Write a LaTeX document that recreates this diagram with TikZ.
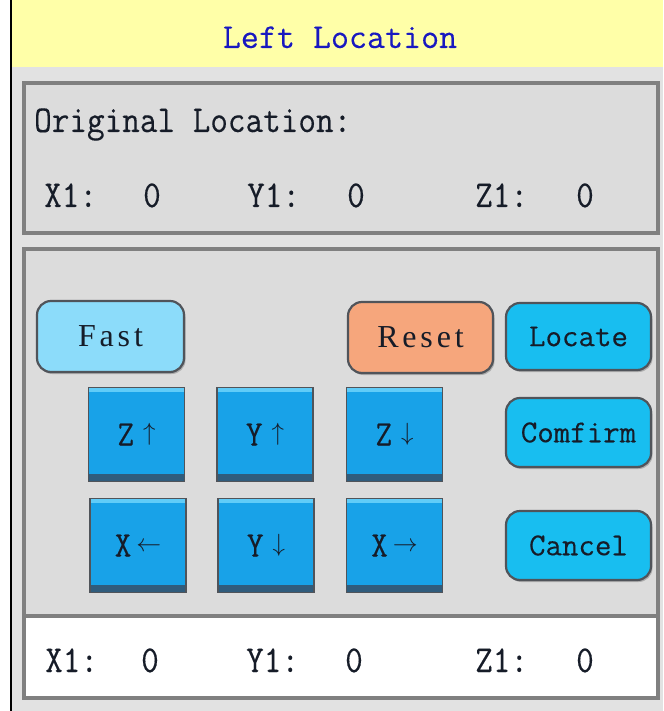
\documentclass[tikz,border=0pt]{standalone}
\usepackage{fontspec}
\usetikzlibrary{shadows}
\newfontfamily\lcd[FakeStretch=0.9,FakeBold=0.3]{Latin Modern Mono}
\newfontfamily\lcdw[FakeBold=0.25]{Latin Modern Mono}
\newfontfamily\ser[LetterSpace=12]{Liberation Serif}
\newcommand{\arw}[2]{\raisebox{#1}{\fontsize{25}{27}\selectfont$#2$}}
\definecolor{hdr}{RGB}{255,255,168}
\definecolor{panelbg}{RGB}{226,226,226}
\definecolor{boxbg}{RGB}{220,220,220}
\definecolor{boxedge}{RGB}{128,128,128}
\definecolor{ttlblue}{RGB}{24,24,192}
\definecolor{txtdark}{RGB}{22,28,40}
\definecolor{fastfill}{RGB}{140,220,250}
\definecolor{resetfill}{RGB}{246,166,124}
\definecolor{cyanfill}{RGB}{24,190,240}
\definecolor{sqfill}{RGB}{24,162,232}
\definecolor{sqlight}{RGB}{96,204,248}
\definecolor{sqdark}{RGB}{48,92,124}
\definecolor{btnedge}{RGB}{80,84,90}
\tikzset{
  boxline/.style={draw=boxedge, line width=4pt},
  lcdtxt/.style={font=\lcd\fontsize{38}{40}\selectfont, text=txtdark, inner sep=0pt},
  rbtn/.style={draw=btnedge, line width=2.2pt, rounded corners=14pt, inner sep=0pt,
    minimum width=145pt, minimum height=69pt, text=txtdark,
    drop shadow={shadow xshift=1.5pt, shadow yshift=-2pt, fill=black!45, opacity=0.6}},
  lcdbtn/.style={rbtn, fill=cyanfill, font=\lcdw\fontsize{32}{34}\selectfont},
  serbtn/.style={rbtn, font=\ser\fontsize{32}{34}\selectfont},
  sqbtn/.style={draw=btnedge, line width=1.5pt, fill=sqfill, inner sep=0pt,
    minimum width=96pt, minimum height=94pt, text=txtdark,
    font=\lcd\fontsize{36}{38}\selectfont,
    path picture={
      \fill[sqdark] ([yshift=8pt]path picture bounding box.south west) rectangle (path picture bounding box.south east);
      \fill[sqlight] (path picture bounding box.north west) rectangle ([yshift=-4pt]path picture bounding box.north east);
    }},
}
\begin{document}
\begin{tikzpicture}[x=1pt,y=-1pt]
\useasboundingbox (0,0) rectangle (663,711);
\fill[white] (0,0) rectangle (663,711);
\fill[panelbg] (12,67) rectangle (663,711);
\fill[hdr] (12,0) rectangle (663,67);
\fill[black] (10,0) rectangle (12,711);
% boxes
\draw[boxline, fill=boxbg] (24,83) rectangle (658,233);
\draw[boxline, fill=boxbg] (24,249) rectangle (658,616);
\draw[boxline, fill=white] (24,616) rectangle (658,698);
% title
\node[lcdtxt, font=\lcdw\fontsize{35}{37}\selectfont, text=ttlblue, anchor=base] (title) at (340,48) {Left Location};
% original location
\node[lcdtxt, anchor=base west] (orig) at (34,132) {Original Location:};
\node[lcdtxt, anchor=base west] (ox) at (44,207) {X1:};
\node[lcdtxt, anchor=base] (oxv) at (152,207) {0};
\node[lcdtxt, anchor=base west] (oy) at (247,207) {Y1:};
\node[lcdtxt, anchor=base] (oyv) at (356,207) {0};
\node[lcdtxt, anchor=base west] (oz) at (475,207) {Z1:};
\node[lcdtxt, anchor=base] (ozv) at (585,207) {0};
% buttons
\node[serbtn, fill=fastfill, minimum height=71pt, minimum width=147pt] (fast) at (110.5,336.5) {Fast};
\node[serbtn, fill=resetfill, minimum height=71pt] (reset) at (420.5,337.5) {Reset};
\node[lcdbtn, minimum height=67pt] (locate) at (578.5,336.5) {Locate};
\node[lcdbtn] (confirm) at (578.5,432.5) {Comfirm};
\node[lcdbtn] (cancel) at (578.5,545.5) {Cancel};
\node[sqbtn] (zup) at (136.5,434.5) {Z\hspace{9pt}\arw{4.8pt}{\uparrow}\hspace{15pt}};
\node[sqbtn] (yup) at (265,434.5) {Y\hspace{9pt}\arw{4.8pt}{\uparrow}\hspace{15pt}};
\node[sqbtn] (zdn) at (394.5,434.5) {Z\hspace{9pt}\arw{4.8pt}{\downarrow}\hspace{15pt}};
\node[sqbtn] (xlt) at (138,545.5) {X\hspace{5pt}\arw{5pt}{\leftarrow}\hspace{9pt}};
\node[sqbtn] (ydn) at (266,545.5) {Y\hspace{9pt}\arw{4.8pt}{\downarrow}\hspace{15pt}};
\node[sqbtn] (xrt) at (394.5,545.5) {X\hspace{5pt}\arw{5pt}{\rightarrow}\hspace{9pt}};
% bottom values
\node[lcdtxt, anchor=base west] (bx) at (45,672) {X1:};
\node[lcdtxt, anchor=base] (bxv) at (150,672) {0};
\node[lcdtxt, anchor=base west] (by) at (246,672) {Y1:};
\node[lcdtxt, anchor=base] (byv) at (354,672) {0};
\node[lcdtxt, anchor=base west] (bz) at (475,672) {Z1:};
\node[lcdtxt, anchor=base] (bzv) at (585,672) {0};
\end{tikzpicture}
\end{document}
